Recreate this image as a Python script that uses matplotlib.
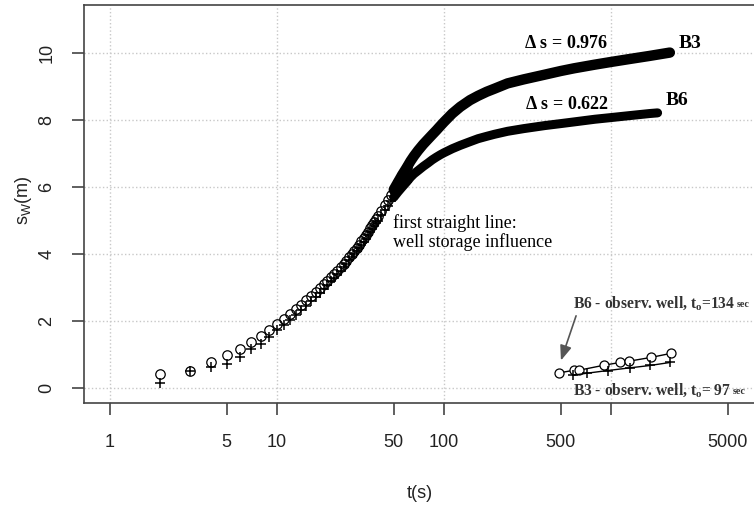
import numpy as np
import matplotlib
matplotlib.use("Agg")
import matplotlib.pyplot as plt

plt.rcParams['font.family'] = ['Liberation Sans', 'DejaVu Sans']
plt.rcParams['mathtext.fontset'] = 'custom'
plt.rcParams['mathtext.rm'] = 'Liberation Serif'
plt.rcParams['mathtext.bf'] = 'Liberation Serif:bold'
plt.rcParams['mathtext.it'] = 'Liberation Serif:italic'

# pumping well B3 (circles) and B6 (plus), drawdown s_w in m vs time t in s
t_b3 = [2, 3, 4, 5, 6, 7, 8, 9, 10, 11, 12, 13, 14, 15, 16, 17, 18, 19,
        20, 21, 22, 23, 24, 25, 26, 27, 28, 29, 30, 31, 32, 33, 34, 35, 36,
        37, 38, 39, 40, 42, 44, 46, 48, 50, 53, 56, 60, 63, 66, 70, 75, 80,
        85, 90, 95, 100, 112, 125, 143, 160, 180, 200, 240, 300, 400, 500,
        600, 800, 1000, 1300, 1700, 2250]
s_b3 = [0.42, 0.53, 0.79, 0.98, 1.18, 1.38, 1.55, 1.73, 1.92, 2.08, 2.22,
        2.36, 2.49, 2.62, 2.74, 2.86, 2.98, 3.10,
        3.20, 3.31, 3.41, 3.51, 3.61, 3.71, 3.81, 3.91, 4.01, 4.10, 4.20,
        4.29, 4.39, 4.48, 4.58, 4.67, 4.77, 4.86, 4.95, 5.04, 5.13,
        5.30, 5.47, 5.62, 5.78, 5.93, 6.15, 6.36, 6.60, 6.78, 6.93, 7.10,
        7.28, 7.43, 7.57, 7.70, 7.83, 7.95, 8.20, 8.40, 8.60, 8.73, 8.85,
        8.94, 9.10, 9.22, 9.36, 9.47, 9.55, 9.66, 9.74, 9.83, 9.92, 10.02]

t_b6 = [2, 3, 4, 5, 6, 7, 8, 9, 10, 11, 12, 13, 14, 15, 16, 17, 18, 19,
        20, 21, 22, 23, 24, 25, 26, 27, 28, 29, 30, 31, 32, 33, 34, 35, 36,
        37, 38, 39, 40, 42, 44, 46, 48, 50, 53, 56, 60, 63, 66, 70, 75, 80,
        85, 90, 95, 100, 112, 125, 143, 160, 180, 200, 240, 300, 400, 500,
        600, 800, 1000, 1300, 1700, 1900]
s_b6 = [0.15, 0.52, 0.63, 0.72, 0.92, 1.16, 1.31, 1.52, 1.73, 1.90, 2.05,
        2.20, 2.33, 2.47, 2.60, 2.72, 2.85, 2.97,
        3.08, 3.19, 3.30, 3.41, 3.51, 3.62, 3.72, 3.82, 3.92, 4.01, 4.10,
        4.20, 4.29, 4.38, 4.47, 4.56, 4.65, 4.74, 4.83, 4.92, 5.00,
        5.16, 5.31, 5.45, 5.58, 5.70, 5.86, 6.00, 6.17, 6.30, 6.40, 6.50,
        6.62, 6.72, 6.82, 6.90, 6.97, 7.03, 7.15, 7.25, 7.36, 7.45, 7.52,
        7.58, 7.67, 7.75, 7.84, 7.90, 7.95, 8.03, 8.08, 8.14, 8.20, 8.22]

# observation wells
t_obs6 = [490, 603, 646, 912, 1132, 1288, 1731, 2277]
s_obs6 = [0.46, 0.54, 0.54, 0.69, 0.77, 0.81, 0.92, 1.04]
t_obs3 = [592, 718, 960, 1300, 1713, 2255]
s_obs3 = [0.39, 0.45, 0.53, 0.61, 0.68, 0.77]

xticks = [1, 5, 10, 50, 100, 500, 1000, 5000]
xticklabels = ['1', '5', '10', '50', '100', '500', '', '5000']
yticks = [0, 2, 4, 6, 8, 10]

fig = plt.figure(figsize=(7.54, 5.07), dpi=100)
ax = fig.add_axes([84/754, 104/507, 672/754, 398/507])
ax.set_xscale('log')
ax.set_xlim(10**-0.156, 10**3.868)
ax.set_ylim(-0.44, 11.44)

for g in [1, 10, 100, 1000]:
    ax.axvline(g, color='#c8c8c8', ls=':', lw=1, zorder=0)
for g in yticks:
    ax.axhline(g, color='#c8c8c8', ls=':', lw=1, zorder=0)

t3 = np.array(t_b3); v3 = np.array(s_b3)
t6 = np.array(t_b6); v6 = np.array(s_b6)
m3 = t3 <= 60
m6 = t6 <= 60
ax.plot(t6[m6], v6[m6], '+', color='black', ms=7, mew=1.1, zorder=3)
ax.plot(t3[m3], v3[m3], 'o', mfc='none', mec='black', ms=6.8, mew=0.9, zorder=3)
ax.plot(t3[t3 >= 50], v3[t3 >= 50], '-', color='black', lw=7.5,
        solid_capstyle='round', zorder=4)
ax.plot(t6[t6 >= 50], v6[t6 >= 50], '-', color='black', lw=6.5,
        solid_capstyle='round', zorder=4)

ax.plot(t_obs6, s_obs6, '-o', color='black', mfc='white', ms=6.5, mew=0.9, lw=1, zorder=3)
ax.plot(t_obs3, s_obs3, '-+', color='black', ms=7, mew=1.1, lw=1, zorder=3)

ax.set_xticks(xticks)
ax.set_xticklabels(xticklabels)
ax.minorticks_off()
ax.set_yticks(yticks)
ax.set_yticklabels([str(v) for v in yticks], rotation=90, va='center')
ax.tick_params(axis='both', direction='out', length=8.6, width=1.2,
               colors='#444444', labelsize=13, labelcolor='#222222')
ax.tick_params(axis='x', pad=14)
ax.tick_params(axis='y', pad=12)
for side in ['left', 'bottom', 'top']:
    ax.spines[side].set_color('#444444')
    ax.spines[side].set_linewidth(1.2)
ax.spines['right'].set_visible(False)

ax.set_xlabel('t(s)', fontsize=13, color='#222222')
ax.xaxis.set_label_coords(0.5, -0.205)
ax.set_ylabel(r'$\mathregular{s_W(m)}$', fontsize=13, color='#222222')
ax.yaxis.set_label_coords(-0.074, 0.51)

serif = 'Liberation Serif'
ax.text(301, 10.3, r'$\mathbf{\Delta}$ s = 0.976', family=serif, weight='bold',
        fontsize=13, ha='left', va='center')
ax.text(2553, 10.3, 'B3', family=serif, weight='bold', fontsize=14,
        ha='left', va='center')
ax.text(305, 8.48, r'$\mathbf{\Delta}$ s = 0.622', family=serif, weight='bold',
        fontsize=13, ha='left', va='center')
ax.text(2135, 8.6, 'B6', family=serif, weight='bold', fontsize=14,
        ha='left', va='center')
ax.text(49.5, 4.64, 'first straight line:\nwell storage influence',
        family=serif, fontsize=13, ha='left', va='center', linespacing=1.1)

tb6 = ax.text(592, 2.54, r'B6 - observ. well, t$_\mathbf{o}$=134',
              family=serif, weight='bold', fontsize=11.2, ha='left',
              va='center', color='#333333')
ax.annotate('sec', xy=(1, 0.28), xycoords=tb6, xytext=(1, 0),
            textcoords='offset points', family=serif, fontsize=7.2,
            weight='bold', va='baseline', ha='left', color='#333333',
            annotation_clip=False)
tb3 = ax.text(592, -0.06, r'B3 - observ. well, t$_\mathbf{o}$= 97',
              family=serif, weight='bold', fontsize=11.2, ha='left',
              va='center', color='#333333')
ax.annotate('sec', xy=(1, 0.28), xycoords=tb3, xytext=(1, 0),
            textcoords='offset points', family=serif, fontsize=7.2,
            weight='bold', va='baseline', ha='left', color='#333333',
            annotation_clip=False)

ax.annotate('', xy=(495, 0.75), xytext=(625, 2.24),
            arrowprops=dict(arrowstyle='-|>,head_length=0.9,head_width=0.35',
                            color='#555555', lw=1.2))

fig.savefig('out.png', dpi=100)
